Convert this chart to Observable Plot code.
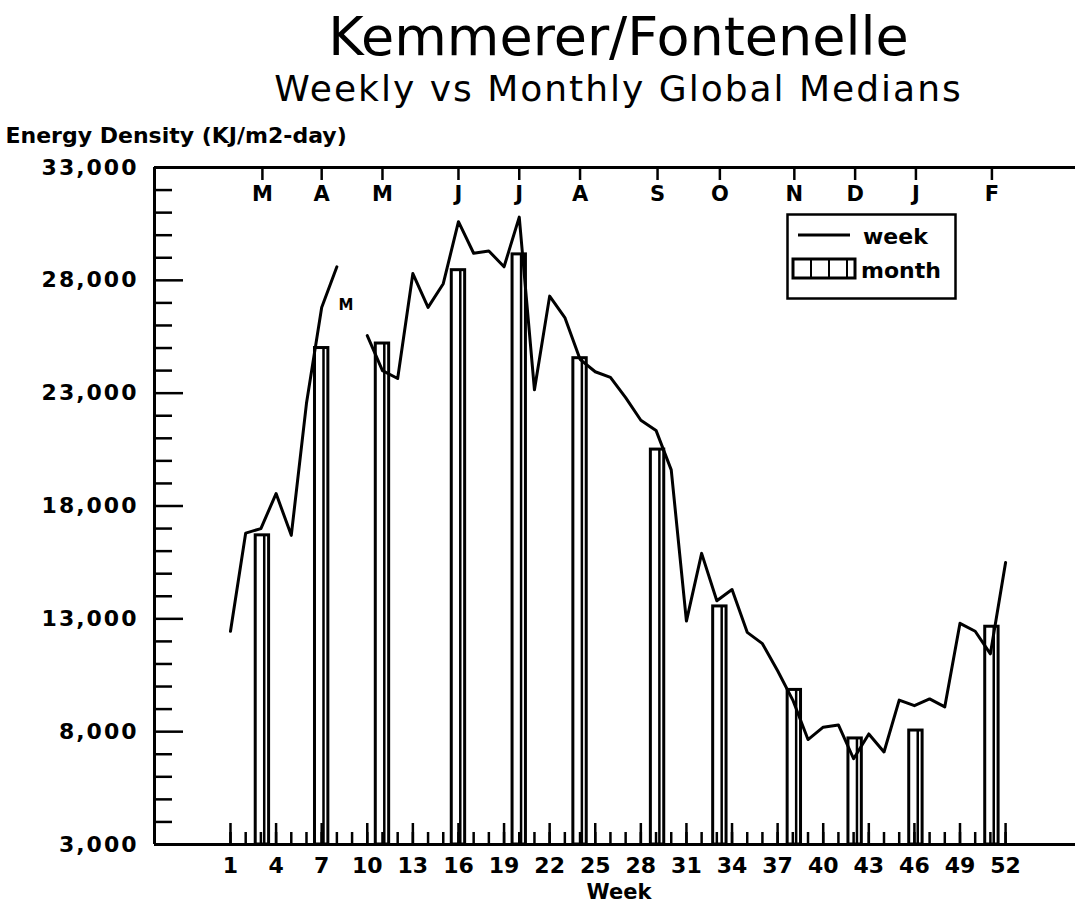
<!DOCTYPE html>
<html><head><meta charset="utf-8">
<script src="https://cdn.jsdelivr.net/npm/d3@7"></script>
<script src="https://cdn.jsdelivr.net/npm/@observablehq/plot@0.6"></script>
<style>
body{margin:0;background:#fff;}
#wrap{position:relative;width:1082px;height:909px;font-family:"DejaVu Sans",sans-serif;}
#legend{position:absolute;left:786px;top:213px;}
</style></head><body><div id="wrap"></div>
<script>
// ---- data ----
const weeks = [1,2,3,4,5,6,7,8,9,10,11,12,13,14,15,16,17,18,19,20,21,22,23,24,25,26,
  27,28,29,30,31,32,33,34,35,36,37,38,39,40,41,42,43,44,45,46,47,48,49,50,51,52];
const weekly = [12450,16800,17000,18550,16700,22550,26800,28600,null,25550,24000,23650,28300,
  26800,27850,30600,29200,29300,28600,30800,23150,27300,26350,24500,23950,23700,22800,21800,
  21350,19600,12900,15900,13800,14300,12400,11900,10700,9400,7650,8200,8300,6800,7900,7100,
  9400,9150,9450,9100,12800,12450,11450,15500];
const months = ["M","A","M","J","J","A","S","O","N","D","J","F"];
const monthWeek = [3.1,7,11,16,20,24,29.1,33.2,38.1,42.1,46.1,51.1];
const monthly = [16700,25000,25200,28450,29150,24550,20500,13550,9850,7700,8050,12650];
const missing = [{week:8.6, value:26900, label:"M"}];
const yMajor = [3000,8000,13000,18000,23000,28000,33000];
const yMinor = [4000,5000,6000,7000,9000,10000,11000,12000,14000,15000,16000,17000,
  19000,20000,21000,22000,24000,25000,26000,27000,29000,30000,31000,32000];
const xMajor = [1,4,7,10,13,16,19,22,25,28,31,34,37,40,43,46,49,52];
const xDomain = [-4, 56.6];
const yDomain = [3000, 33000];
const title = "Kemmerer/Fontenelle";
const subtitle = "Weekly vs Monthly Global Medians";
const yLabel = "Energy Density (KJ/m2-day)";
const xLabel = "Week";

const weekData = weeks.map((w,i)=>({week:w, value:weekly[i]}));
const monthData = months.map((m,i)=>({month:m, week:monthWeek[i], value:monthly[i]}));

// ---- layout ----
const W=1082, H=909, mt=167, mb=65, ml=154, mr=7;
const innerH = H-mt-mb, innerW = W-ml-mr;
const fmt = d3.format(",");

const chart = Plot.plot({
  width: W, height: H,
  marginTop: mt, marginBottom: mb, marginLeft: ml, marginRight: mr,
  x: {domain: xDomain, axis: null},
  y: {domain: yDomain, axis: null},
  style: {fontFamily: "DejaVu Sans", background: "white", color: "black", overflow: "visible"},
  marks: [
    // monthly bars
    Plot.rectY(monthData, {x1: d=>d.week-0.44, x2: d=>d.week+0.44, y1: yDomain[0], y2: "value",
      fill: "white", stroke: "black", strokeWidth: 3}),
    Plot.ruleX(monthData, {x: d=>d.week+0.12, y1: yDomain[0], y2: "value", stroke: "black", strokeWidth: 2.5}),
    // weekly line
    Plot.line(weekData, {x: "week", y: "value", stroke: "black", strokeWidth: 3}),
    Plot.text(missing, {x: "week", y: "value", text: "label", fontSize: 15, fontWeight: "bold", lineAnchor: "middle"}),
    // frame lines
    Plot.ruleX([xDomain[0]], {stroke: "black", strokeWidth: 3}),
    Plot.ruleY(yDomain, {stroke: "black", strokeWidth: 3}),
    // y ticks
    Plot.ruleY(yMinor, {insetRight: innerW-18, stroke: "black", strokeWidth: 2.5}),
    Plot.ruleY(yMajor, {insetRight: innerW-29, stroke: "black", strokeWidth: 2.5}),
    // x ticks
    Plot.ruleX(weeks, {insetTop: innerH-12, stroke: "black", strokeWidth: 2.5}),
    Plot.ruleX(xMajor, {insetTop: innerH-21, stroke: "black", strokeWidth: 2.5}),
    // month ticks (top)
    Plot.ruleX(monthWeek, {insetBottom: innerH-13, stroke: "black", strokeWidth: 2.5}),
    // labels
    Plot.text(yMajor, {y: d=>d, text: d=>fmt(d), frameAnchor: "left", dx: -16, textAnchor: "end",
      lineAnchor: "middle", fontSize: 22, fontWeight: "bold"}),
    Plot.text(xMajor, {x: d=>d, text: d=>String(d), frameAnchor: "bottom", dy: 21,
      lineAnchor: "middle", fontSize: 22, fontWeight: "bold"}),
    Plot.text(monthData, {x: "week", text: "month", frameAnchor: "top", dy: 27,
      lineAnchor: "middle", fontSize: 21, fontWeight: "bold"}),
    Plot.text([title], {frameAnchor: "top", dx: 3.5, dy: -130, lineAnchor: "middle", fontSize: 54}),
    Plot.text([subtitle], {frameAnchor: "top", dx: 3.5, dy: -78, lineAnchor: "middle", fontSize: 36}),
    Plot.text([yLabel], {frameAnchor: "top-left", dx: -149, dy: -32, textAnchor: "start",
      lineAnchor: "middle", fontSize: 22, fontWeight: "bold"}),
    Plot.text([xLabel], {frameAnchor: "bottom", dx: 4, dy: 48, lineAnchor: "middle", fontSize: 21, fontWeight: "bold"})
  ]
});
// widen y tick labels and subtitle to match the reference lettering
d3.select(chart).selectAll("text").each(function() {
  const t = this.textContent;
  if (/^\d+,000$/.test(t)) this.style.letterSpacing = "2px";
  else if (t === subtitle) this.style.letterSpacing = "2px";
});
document.getElementById("wrap").appendChild(chart);

// ---- legend ----
const legend = document.createElement("div");
legend.id = "legend";
legend.innerHTML = `<svg width="172" height="90" xmlns="http://www.w3.org/2000/svg" font-family="DejaVu Sans">
  <rect x="1.5" y="1.5" width="168" height="84" fill="white" stroke="black" stroke-width="2.5"/>
  <line x1="12" y1="22" x2="64" y2="22" stroke="black" stroke-width="3"/>
  <text x="77" y="31" font-size="22" font-weight="bold">week</text>
  <rect x="7" y="46" width="62" height="19" fill="white" stroke="black" stroke-width="3"/>
  <line x1="25" y1="46" x2="25" y2="65" stroke="black" stroke-width="2"/>
  <line x1="43" y1="46" x2="43" y2="65" stroke="black" stroke-width="2"/>
  <line x1="61" y1="46" x2="61" y2="65" stroke="black" stroke-width="2"/>
  <text x="75" y="65" font-size="22" font-weight="bold">month</text>
</svg>`;
document.getElementById("wrap").appendChild(legend);
</script>
</body></html>
